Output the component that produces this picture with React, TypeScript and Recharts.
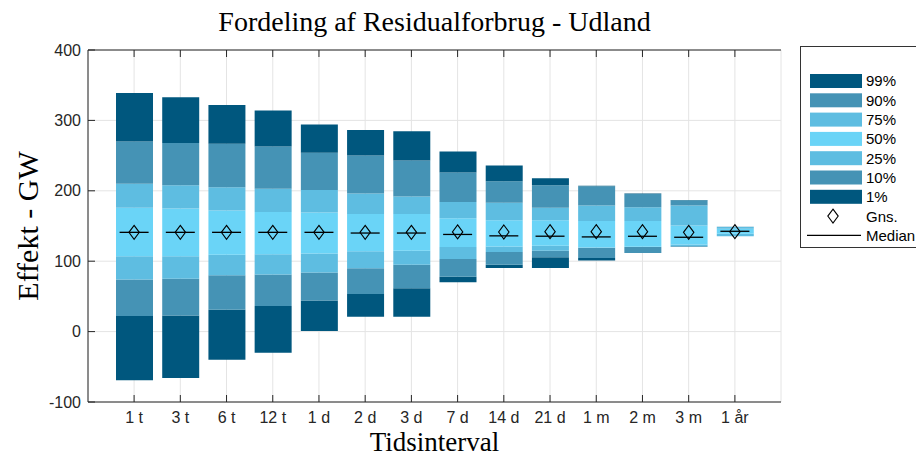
import React from 'react';
import { ComposedChart, Bar, Scatter, XAxis, YAxis, CartesianGrid, Legend } from 'recharts';

const categories = ['1 t', '3 t', '6 t', '12 t', '1 d', '2 d', '3 d', '7 d', '14 d', '21 d', '1 m', '2 m', '3 m', '1 år'];
// segment boundaries, bottom (bound0) to top (bound7), GW
const bound0 = [-69, -66, -40, -30, 1, 21, 21, 70, 90.5, 90.5, 101, 111.5, 120.5, 135.4];
const bound1 = [22, 23, 31, 36.5, 44, 53.5, 61.5, 78, 95, 105.5, 104.7, 111.8, 120.7, 135.5];
const bound2 = [74, 75, 80, 81, 84, 90, 95, 103, 113, 115, 119, 120, 121.5, 135.6];
const bound3 = [107, 107, 109, 110, 111, 114, 115, 120, 121, 122, 119.5, 120.7, 123.6, 139];
const bound4 = [176, 175, 172, 170, 169, 167, 167, 161, 158, 158, 157, 157, 150.6, 146];
const bound5 = [210, 208, 205, 203, 201, 196, 192, 184, 183, 176, 179, 176.6, 179, 148.7];
const bound6 = [270, 268, 267, 263, 254, 250, 243, 226, 213.5, 208, 206.5, 195.5, 186.5, 148.9];
const bound7 = [339, 333, 322, 314, 294, 286.5, 284.5, 256, 236, 218, 207, 196, 187, 149];
const medians = [141, 141, 141, 141, 141, 140, 140, 138, 136, 135.5, 134.5, 135.4, 134, 142.5];
const means = [141, 141, 141, 141, 141, 141, 141, 141.6, 141.5, 142, 142, 142, 141, 142];
const yTicks = [-100, 0, 100, 200, 300, 400];
const legendLabels = ['99%', '90%', '75%', '50%', '25%', '10%', '1%'];

const DARK = '#00577e';
const MID = '#4593b5';
const LIGHT = '#5ebde1';
const LIGHTEST = '#6ad4f7';
const segColors = [DARK, MID, LIGHT, LIGHTEST, LIGHT, MID, DARK];
const legendColors = [DARK, MID, LIGHT, LIGHTEST, LIGHT, MID, DARK];

const bounds = [bound0, bound1, bound2, bound3, bound4, bound5, bound6, bound7];
const data = categories.map((cat, i) => {
  const row: any = { cat, base: bound0[i], median: medians[i], mean: means[i] };
  for (let s = 1; s <= 7; s++) row['s' + s] = bounds[s][i] - bounds[s - 1][i];
  return row;
});

const TICK_FONT = 'Liberation Sans, Arial, Helvetica, sans-serif';
const SERIF = 'Liberation Serif, Times New Roman, serif';

const MedianShape = (p: any) => (
  <line x1={p.cx - 14.5} x2={p.cx + 14.5} y1={p.cy} y2={p.cy} stroke="#000" strokeWidth={1.3} />
);
const DiamondShape = (p: any) => (
  <path
    d={`M${p.cx},${p.cy - 7} L${p.cx + 5.2},${p.cy} L${p.cx},${p.cy + 7} L${p.cx - 5.2},${p.cy} Z`}
    fill="none"
    stroke="#000"
    strokeWidth={1.1}
  />
);

const LegendBox = () => {
  const step = 19.3;
  const y0 = 35;
  return (
    <div style={{ width: 130, height: 202, border: '1px solid #333', background: '#fff', boxSizing: 'border-box' }}>
      <svg width={130} height={202} style={{ display: 'block', position: 'absolute', left: 0, top: 0 }}>
        {legendLabels.map((lab, i) => (
          <g key={lab}>
            <rect x={10} y={y0 + i * step - 7} width={52} height={14} fill={legendColors[i]} />
            <text x={66} y={y0 + i * step} dy="0.36em" fontSize={15} fontFamily={TICK_FONT} fill="#000">{lab}</text>
          </g>
        ))}
        <g>
          <path d={`M33,${y0 + 7 * step - 7} L38.2,${y0 + 7 * step} L33,${y0 + 7 * step + 7} L27.8,${y0 + 7 * step} Z`} fill="none" stroke="#000" strokeWidth={1.1} />
          <text x={66} y={y0 + 7 * step} dy="0.36em" fontSize={15} fontFamily={TICK_FONT} fill="#000">Gns.</text>
        </g>
        <g>
          <line x1={7} x2={61} y1={y0 + 8 * step} y2={y0 + 8 * step} stroke="#000" strokeWidth={1.2} />
          <text x={66} y={y0 + 8 * step} dy="0.36em" fontSize={15} fontFamily={TICK_FONT} fill="#000">Median</text>
        </g>
      </svg>
    </div>
  );
};

export default function App() {
  return (
    <div style={{ position: 'absolute', left: 0, top: 0, width: 916, height: 454, background: '#fff' }}>
      <ComposedChart
        width={916}
        height={454}
        data={data}
        margin={{ top: 49, right: 135, bottom: 22, left: 48 }}
      >
        <CartesianGrid stroke="#e4e4e4" strokeWidth={1} />
        <XAxis
          dataKey="cat"
          height={30}
          padding={{ left: 23, right: 23 }}
          tickSize={-7}
          tickMargin={17}
          tick={{ fontSize: 16, fontFamily: TICK_FONT, fill: '#262626' }}
          axisLine={{ stroke: '#262626' }}
          tickLine={{ stroke: '#262626' }}
          label={{
            content: (p: any) => {
              const vb = p.viewBox;
              const cx = vb.x + vb.width / 2;
              return (
                <g>
                  <text x={cx} y={451} textAnchor="middle" fontSize={27} fontFamily={SERIF} fill="#000">
                    Tidsinterval
                  </text>
                  <text x={cx} y={31} textAnchor="middle" fontSize={28} fontFamily={SERIF} fill="#000">
                    Fordeling af Residualforbrug - Udland
                  </text>
                </g>
              );
            },
          }}
        />
        <XAxis
          xAxisId="top"
          dataKey="cat"
          orientation="top"
          height={1}
          padding={{ left: 23, right: 23 }}
          tickSize={-7}
          tickFormatter={() => ''}
          axisLine={{ stroke: '#262626' }}
          tickLine={{ stroke: '#262626' }}
        />
        <YAxis
          width={40}
          domain={[-100, 400]}
          ticks={yTicks}
          interval={0}
          tickSize={-7}
          tickMargin={14}
          tick={{ fontSize: 16, fontFamily: TICK_FONT, fill: '#262626' }}
          axisLine={{ stroke: '#262626' }}
          tickLine={{ stroke: '#262626' }}
          label={{
            content: (p: any) => {
              const vb = p.viewBox;
              const cy = vb.y + vb.height / 2;
              return (
                <text x={27} y={cy} transform={`rotate(-90 27 ${cy})`} textAnchor="middle" dy="0.35em" fontSize={30} fontFamily={SERIF} fill="#000">
                  Effekt - GW
                </text>
              );
            },
          }}
        />
        <YAxis
          yAxisId="right"
          orientation="right"
          width={0}
          domain={[-100, 400]}
          ticks={yTicks}
          interval={0}
          tickSize={-7}
          tickFormatter={() => ''}
          axisLine={{ stroke: '#262626' }}
          tickLine={{ stroke: '#262626' }}
        />
        <Bar dataKey="base" stackId="a" fill="transparent" barSize={37} isAnimationActive={false} legendType="none" />
        {segColors.map((c, i) => (
          <Bar key={i} dataKey={'s' + (i + 1)} stackId="a" fill={c} barSize={37} isAnimationActive={false} />
        ))}
        <Scatter dataKey="median" shape={MedianShape} isAnimationActive={false} />
        <Scatter dataKey="mean" shape={DiamondShape} isAnimationActive={false} />
        <Legend
          layout="vertical"
          align="center"
          verticalAlign="middle"
          content={() => <LegendBox />}
          wrapperStyle={{ position: 'absolute', left: 800, top: 46, width: 130, height: 202 }}
        />
      </ComposedChart>
    </div>
  );
}
